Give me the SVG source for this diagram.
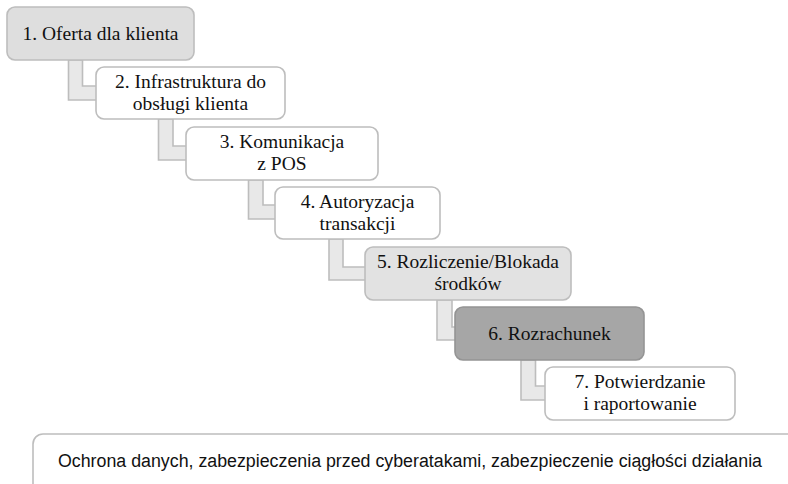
<svg xmlns="http://www.w3.org/2000/svg" width="788" height="484" viewBox="0 0 788 484">
<style>
.bg{fill:#ffffff}
.conn{fill:#e8e8e8;stroke:#bdbdbd;stroke-width:1.6;stroke-linejoin:miter}
.box{fill:#ffffff;stroke:#bdbdbd;stroke-width:1.6}
.g1{fill:#dedede}
.g5{fill:#e2e2e2}
.g6{fill:#a6a6a6;stroke:#949494}
.t{font-family:'Liberation Serif','Times New Roman',serif;font-size:19.5px;fill:#111111;text-anchor:middle}
.s{font-family:'Liberation Sans',Arial,sans-serif;font-size:18px;fill:#111111}
</style>
<rect class="bg" x="0" y="0" width="788" height="484"/>
<g id="connectors">
<path class="conn" d="M68.5,60 V100 H97 V86 H82.5 V60 Z"/>
<path class="conn" d="M158.5,119 V160 H187 V146 H173 V119 Z"/>
<path class="conn" d="M248.5,180 V219 H276 V205 H263 V180 Z"/>
<path class="conn" d="M329,239 V280 H366 V267 H343 V239 Z"/>
<path class="conn" d="M437,300 V340 H456 V327 H452 V300 Z"/>
<path class="conn" d="M521,360 V400 H546 V386 H535.5 V360 Z"/>
</g>
<g id="node1">
<rect class="box g1" x="7" y="7" width="187" height="53" rx="8"/>
<text class="t" x="100.5" y="40">1. Oferta dla klienta</text>
</g>
<g id="node2">
<rect class="box" x="96" y="67" width="189" height="52" rx="8"/>
<text class="t" x="190.5" y="88">2. Infrastruktura do</text>
<text class="t" x="190.5" y="110">obsługi klienta</text>
</g>
<g id="node3">
<rect class="box" x="186" y="127" width="192" height="53" rx="8"/>
<text class="t" x="282" y="148">3. Komunikacja</text>
<text class="t" x="282" y="170">z POS</text>
</g>
<g id="node4">
<rect class="box" x="275" y="187" width="165" height="52" rx="8"/>
<text class="t" x="357.5" y="208">4. Autoryzacja</text>
<text class="t" x="357.5" y="230">transakcji</text>
</g>
<g id="node5">
<rect class="box g5" x="365" y="247" width="206" height="53" rx="8"/>
<text class="t" x="468" y="268">5. Rozliczenie/Blokada</text>
<text class="t" x="468" y="290">środków</text>
</g>
<g id="node6">
<rect class="box g6" x="455" y="307" width="189" height="53" rx="8"/>
<text class="t" x="549.5" y="340">6. Rozrachunek</text>
</g>
<g id="node7">
<rect class="box" x="545" y="367" width="190" height="53" rx="8"/>
<text class="t" x="640" y="388">7. Potwierdzanie</text>
<text class="t" x="640" y="410">i raportowanie</text>
</g>
<g id="node8">
<rect class="box" x="33" y="434" width="780" height="70" rx="10"/>
<text class="s" x="58" y="467" textLength="704" lengthAdjust="spacingAndGlyphs">Ochrona danych, zabezpieczenia przed cyberatakami, zabezpieczenie ciągłości działania</text>
</g>
</svg>
